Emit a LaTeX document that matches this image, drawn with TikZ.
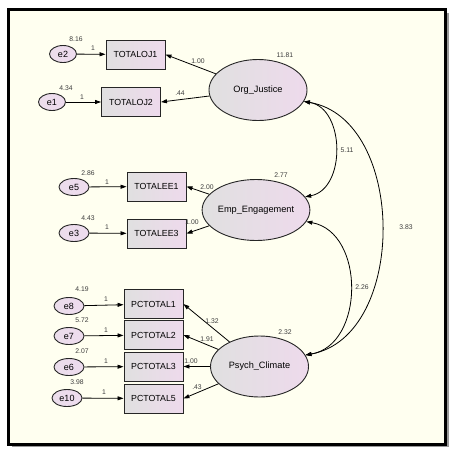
\documentclass[tikz,border=0pt]{standalone}
\usepackage{fontspec}
\setmainfont{Liberation Sans}
\usetikzlibrary{arrows.meta,shapes.geometric}

\definecolor{paper}{HTML}{FFFFF0}
\definecolor{boxgrey}{HTML}{E0E0E0}
\definecolor{boxpink}{HTML}{EEDAEC}
\definecolor{errpink}{HTML}{EEDCEE}
\definecolor{numgrey}{HTML}{3C3C3C}

\tikzset{
  obs/.style={rectangle, draw=black!85, line width=0.9pt,
    left color=boxgrey, right color=boxpink,
    minimum width=59pt, minimum height=29pt, inner sep=0pt,
    font=\fontsize{8.8}{10}\selectfont},
  lat/.style={ellipse, draw=black!85, line width=0.9pt,
    left color=boxgrey, right color=boxpink,
    minimum width=98pt, minimum height=61pt, inner sep=0pt,
    font=\fontsize{9.2}{11}\selectfont},
  err/.style={ellipse, draw=black!85, line width=0.9pt,
    left color=errpink!80!boxgrey, right color=errpink,
    minimum width=30pt, minimum height=17pt, inner sep=0pt,
    font=\fontsize{9}{10}\selectfont},
  num/.style={inner sep=0pt, text=numgrey, font=\fontsize{6.8}{8}\selectfont},
  load/.style={-{Triangle[length=6pt,width=4pt]}, line width=0.8pt},
  cov/.style={{Triangle[length=6pt,width=4pt]}-{Triangle[length=6pt,width=4pt]},
    line width=0.8pt}
}

\begin{document}
\begin{tikzpicture}[x=1pt,y=-1pt]

% page and frame
\useasboundingbox (0,0) rectangle (457,453);
\fill[black!40] (11.5,12.5) rectangle (448.5,447);
\draw[line width=3pt, fill=paper] (8.5,9.5) rectangle (445.5,444);

% latent variables
\node[lat] (oj) at (258,90) {Org\_Justice};
\node[lat] (ee) at (256,210) {Emp\_Engagement};
\node[lat] (pc) at (259.5,366.5) {Psych\_Climate};

\node[num] (voj) at (285,55) {11.81};
\node[num] (vee) at (281,175) {2.77};
\node[num] (vpc) at (285,332) {2.32};

% observed variables
\node[obs] (oj1) at (135.5,54.5) {TOTALOJ1};
\node[obs] (oj2) at (131,102) {TOTALOJ2};
\node[obs] (ee1) at (156.5,186.5) {TOTALEE1};
\node[obs] (ee3) at (156.5,233.5) {TOTALEE3};
\node[obs] (pc1) at (153.5,304) {PCTOTAL1};
\node[obs] (pc2) at (153.5,335) {PCTOTAL2};
\node[obs] (pc3) at (153.5,366.5) {PCTOTAL3};
\node[obs] (pc5) at (153.5,398.5) {PCTOTAL5};

% error terms
\node[err, minimum width=27pt] (e2) at (63,54) {e2};
\node[err, minimum width=27pt] (e1) at (52,102) {e1};
\node[err] (e5) at (74,187) {e5};
\node[err] (e3) at (74,233) {e3};
\node[err] (e8) at (69,306) {e8};
\node[err] (e7) at (69,336) {e7};
\node[err] (e6) at (69,367) {e6};
\node[err] (e10) at (67,398) {e10};

\node[num] (ve2) at (76,39) {8.16};
\node[num] (ve1) at (66,88) {4.34};
\node[num] (ve5) at (88,173) {2.86};
\node[num] (ve3) at (88,218) {4.43};
\node[num] (ve8) at (82,289) {4.19};
\node[num] (ve7) at (82,320) {5.72};
\node[num] (ve6) at (82,351) {2.07};
\node[num] (ve10) at (77,382) {3.98};

% error paths
\draw[load] (e2) -- (oj1);
\draw[load] (e1) -- (oj2);
\draw[load] (e5) -- (ee1);
\draw[load] (e3) -- (ee3);
\draw[load] (e8) -- (pc1);
\draw[load] (e7) -- (pc2);
\draw[load] (e6) -- (pc3);
\draw[load] (e10) -- (pc5);

\node[num] (w2) at (93,48) {1};
\node[num] (w1) at (82,97) {1};
\node[num] (w5) at (107,182) {1};
\node[num] (w3) at (107,227) {1};
\node[num] (w8) at (106,299) {1};
\node[num] (w7) at (106,330) {1};
\node[num] (w6) at (106,361) {1};
\node[num] (w10) at (104,392) {1};

% loadings
\draw[load] (oj) -- (oj1.east);
\draw[load] (oj) -- (oj2.east);
\draw[load] (ee) -- (ee1.east);
\draw[load] (ee) -- (ee3.east);
\draw[load] (pc) -- (pc1.east);
\draw[load] (pc) -- (pc2.east);
\draw[load] (pc) -- (pc3.east);
\draw[load] (pc) -- (pc5.east);

\node[num] (loj1) at (198,61) {1.00};
\node[num] (loj2) at (180,93) {.44};
\node[num] (lee1) at (207,187) {2.00};
\node[num] (lee3) at (192,222) {1.00};
\node[num] (lpc1) at (212,321) {1.32};
\node[num] (lpc2) at (207,339) {1.91};
\node[num] (lpc3) at (191,361) {1.00};
\node[num] (lpc5) at (197,387) {.43};

% covariances
\draw[cov] (oj.-14) to[bend left=80, looseness=1.12] (ee.15);
\draw[cov] (oj.-14) to[bend left=80, looseness=1.05] (pc.14);
\draw[cov] (ee.-13) to[bend left=80, looseness=1.15] (pc.14);

\node[num] (coe) at (347,150) {5.11};
\node[num] (cop) at (406,227) {3.83};
\node[num] (cep) at (362,287) {2.26};

\end{tikzpicture}
\end{document}
